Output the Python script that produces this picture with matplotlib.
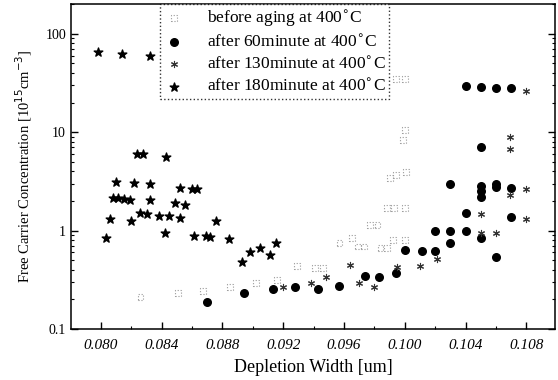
import numpy as np
import matplotlib
matplotlib.use("Agg")
import matplotlib.pyplot as plt
from matplotlib.ticker import FixedLocator, LogLocator, NullFormatter, MultipleLocator

plt.rcParams["font.family"] = ["Liberation Serif", "DejaVu Serif"]

# before aging at 400C (open squares)
x_before = [0.0826, 0.0851, 0.0867, 0.0885, 0.0902, 0.0916, 0.0929, 0.0941, 0.0946,
            0.0957, 0.0965, 0.0969, 0.0973, 0.0977, 0.0982, 0.0984, 0.0988, 0.0992,
            0.0988, 0.0993, 0.1000, 0.1000, 0.0990, 0.0994, 0.1001, 0.0999, 0.1000,
            0.0994, 0.1000]
y_before = [0.21, 0.232, 0.245, 0.27, 0.293, 0.316, 0.44, 0.416, 0.416,
            0.745, 0.84, 0.69, 0.69, 1.14, 1.14, 0.66, 0.66, 0.80,
            1.69, 1.69, 1.69, 0.81, 3.4, 3.67, 3.97, 8.3, 10.5,
            34.5, 34.5]

# after 60 minute at 400C (filled circles)
x_60 = [0.0870, 0.0894, 0.0913, 0.0928, 0.0943, 0.0957, 0.0974, 0.0983, 0.0994,
        0.1000, 0.1011, 0.1020, 0.1020, 0.1030, 0.1030, 0.1030, 0.1040, 0.1040,
        0.1040, 0.1050, 0.1050, 0.1050, 0.1050, 0.1050, 0.1050, 0.1060, 0.1060,
        0.1060, 0.1060, 0.1070, 0.1070, 0.1070]
y_60 = [0.19, 0.23, 0.255, 0.265, 0.255, 0.277, 0.345, 0.335, 0.37,
        0.64, 0.62, 0.62, 0.99, 0.99, 0.75, 3.0, 1.5, 0.99,
        29.5, 2.85, 2.5, 2.2, 0.84, 7.0, 29.0, 3.0, 2.75,
        0.54, 28.2, 2.7, 1.37, 27.9]

# after 130 minute at 400C (small asterisks)
x_130 = [0.0920, 0.0938, 0.0948, 0.0964, 0.0970, 0.0980, 0.0995, 0.1010, 0.1021,
         0.1050, 0.1050, 0.1060, 0.1069, 0.1069, 0.1069, 0.1080, 0.1080, 0.1080]
y_130 = [0.27, 0.297, 0.34, 0.45, 0.293, 0.27, 0.43, 0.438, 0.516,
         1.47, 0.94, 0.94, 2.3, 9.0, 6.7, 2.65, 1.32, 26.4]

# after 180 minute at 400C (filled stars)
x_180 = [0.0798, 0.0814, 0.0832, 0.0824, 0.0828, 0.0843,
         0.0810, 0.0822, 0.0832, 0.0852, 0.0860, 0.0863,
         0.0808, 0.0811, 0.0815, 0.0819, 0.0832, 0.0849, 0.0855,
         0.0806, 0.0820, 0.0826, 0.0830, 0.0838, 0.0845, 0.0852,
         0.0803, 0.0842, 0.0861, 0.0869, 0.0872, 0.0876, 0.0884,
         0.0893, 0.0898, 0.0905, 0.0911, 0.0915]
y_180 = [66, 63, 59, 6.0, 6.0, 5.6,
         3.14, 3.07, 2.96, 2.73, 2.65, 2.65,
         2.13, 2.13, 2.1, 2.05, 2.05, 1.9, 1.82,
         1.30, 1.25, 1.50, 1.48, 1.42, 1.42, 1.35,
         0.84, 0.95, 0.88, 0.88, 0.86, 1.25, 0.82,
         0.485, 0.60, 0.66, 0.567, 0.745]

fig = plt.figure(figsize=(5.58, 3.80), dpi=100)
ax = fig.add_axes([0.127, 0.134, 0.868, 0.855])

ax.scatter(x_before, y_before, marker="s", s=18, facecolors="none",
           edgecolors="#999999", linewidths=0.8, linestyle=":",
           label="before aging at 400$^{\\circ}$C", zorder=3)
ax.scatter(x_60, y_60, marker="o", s=30, color="black",
           label="after 60minute at 400$^{\\circ}$C", zorder=3)
ax.scatter(x_130, y_130, marker=(6, 2, 0), s=20, color="#333333", linewidths=0.8,
           label="after 130minute at 400$^{\\circ}$C", zorder=3)
ax.scatter(x_180, y_180, marker="*", s=42, color="black",
           label="after 180minute at 400$^{\\circ}$C", zorder=3)

ax.set_yscale("log")
ax.set_xlim(0.07802, 0.1099)
ax.set_ylim(0.1, 200)

ax.xaxis.set_major_locator(FixedLocator([0.080, 0.084, 0.088, 0.092, 0.096,
                                         0.100, 0.104, 0.108]))
ax.xaxis.set_minor_locator(MultipleLocator(0.002))
ax.set_xticklabels(["0.080", "0.084", "0.088", "0.092", "0.096",
                    "0.100", "0.104", "0.108"], fontstyle="italic", fontsize=11)
ax.yaxis.set_major_locator(FixedLocator([0.1, 1, 10, 100]))
ax.set_yticklabels(["0.1", "1", "10", "100"], fontsize=10)
ax.yaxis.set_minor_locator(LogLocator(base=10, subs=np.arange(2, 10)))
ax.yaxis.set_minor_formatter(NullFormatter())

ax.tick_params(which="both", direction="in", top=False, right=True)
ax.tick_params(which="major", length=5, width=1)
ax.tick_params(which="minor", length=2.5, width=0.8)
ax.tick_params(axis="x", which="major", pad=7)
for sp in ax.spines.values():
    sp.set_linewidth(1.1)

ax.set_xlabel("Depletion Width [um]", fontsize=13, labelpad=5)
ax.set_ylabel("Free Carrier Concentration [10$^{15}$cm$^{-3}$]", fontsize=10.5, labelpad=8)

leg = ax.legend(loc="upper left", bbox_to_anchor=(0.184, 1.0), fontsize=12.5,
                frameon=True, fancybox=False, borderpad=0.2, labelspacing=0.3,
                handletextpad=1.3, handlelength=1.2, borderaxespad=0.0)
leg.get_frame().set_edgecolor("black")
leg.get_frame().set_linestyle(":")
leg.get_frame().set_linewidth(1.0)

fig.savefig("out.png", dpi=100)
